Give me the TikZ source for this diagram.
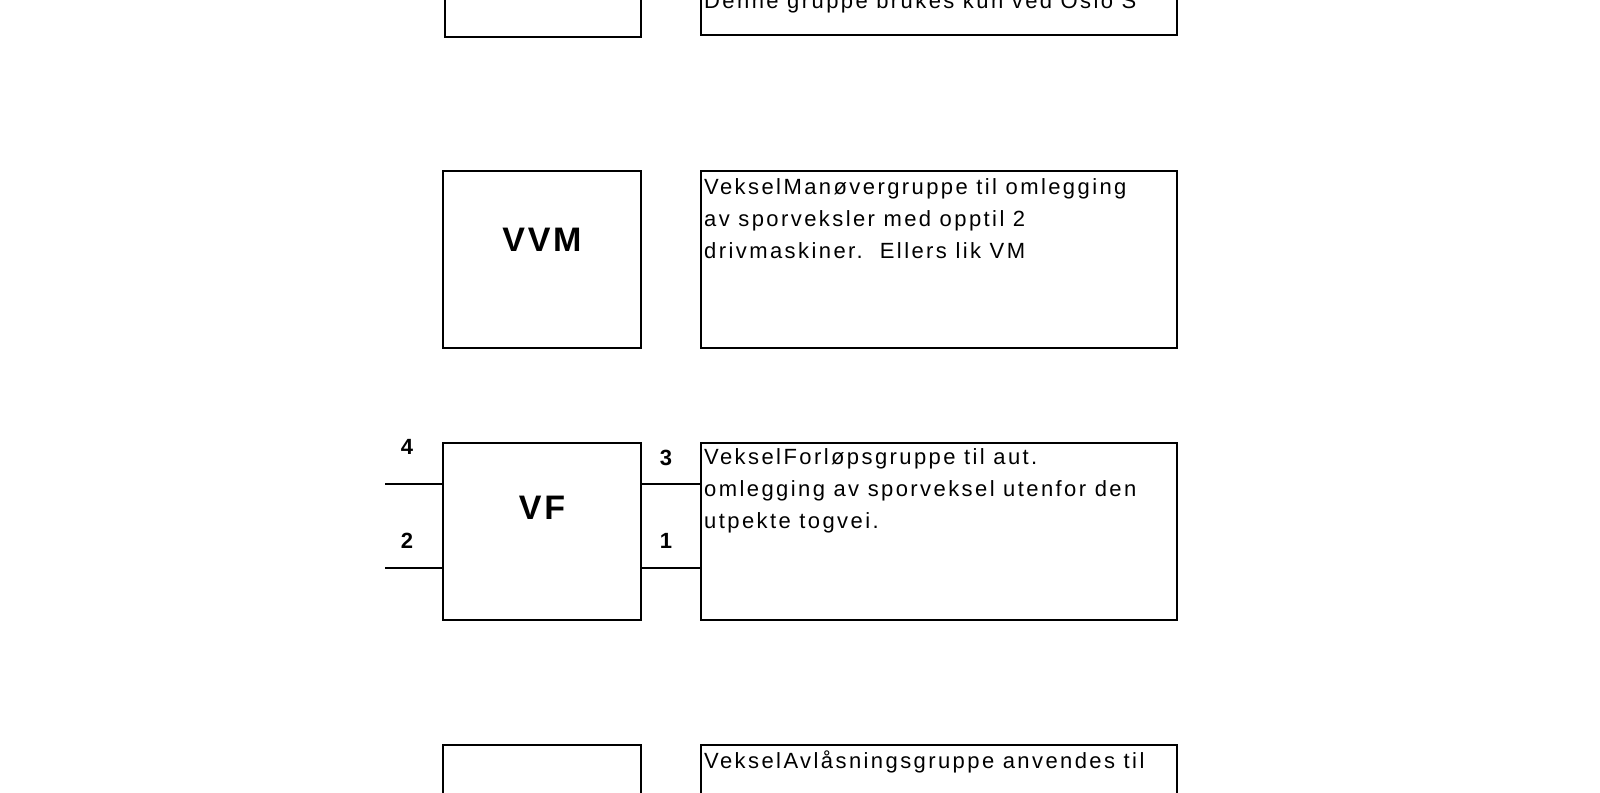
\documentclass[tikz,border=0pt]{standalone}
\usepackage{fontspec}
\setmainfont{Liberation Sans}
\newfontfamily\wide[LetterSpace=11]{Liberation Sans}
\newfontfamily\widebig[LetterSpace=8]{Liberation Sans}
\begin{document}
\begin{tikzpicture}[x=1pt,y=-1pt,
  box/.style={draw,line width=1.4pt},
  big/.style={font=\widebig\fontsize{34}{34}\selectfont\bfseries},
  num/.style={font=\fontsize{22}{22}\selectfont\bfseries},
  desc/.style={anchor=north west,align=left,inner sep=0pt,font=\wide\fontsize{22}{32}\selectfont}]
\useasboundingbox (0,0) rectangle (1600,792);
\clip (0,0) rectangle (1600,792);
% top partial
\draw[box] (445,-60) rectangle (641,37);
\draw[box] (701,-60) rectangle (1177,35);
\node[desc] (t0) at (704,-8) {Denne gruppe brukes kun ved Oslo S};
% VVM
\draw[box] (443,171) rectangle (641,348);
\node[big] (vvm) at (542,240) {VVM};
\draw[box] (701,171) rectangle (1177,348);
\node[desc] (t1) at (704,178) {VekselManøvergruppe til omlegging\\av sporveksler med opptil 2\\drivmaskiner.\ \ Ellers lik VM};
% VF
\draw[box] (443,443) rectangle (641,620);
\node[big] (vf) at (542,508) {VF};
\draw[box] (701,443) rectangle (1177,620);
\node[desc] (t2) at (704,448) {VekselForløpsgruppe til aut.\\omlegging av sporveksel utenfor den\\utpekte togvei.};
\coordinate (l4) at (385,484); \coordinate (l4e) at (443,484);
\coordinate (l2) at (385,568); \coordinate (l2e) at (443,568);
\coordinate (r3) at (641,484); \coordinate (r3e) at (701,484);
\coordinate (r1) at (641,568); \coordinate (r1e) at (701,568);
\draw[line width=1.4pt] (l4)--(l4e) (l2)--(l2e) (r3)--(r3e) (r1)--(r1e);
\node[num] (n4) at (407,447) {4};
\node[num] (n2) at (407,541) {2};
\node[num] (n3) at (666,458) {3};
\node[num] (n1) at (666,541) {1};
% bottom partial
\draw[box] (443,745) rectangle (641,900);
\draw[box] (701,745) rectangle (1177,900);
\node[desc] (t3) at (704,751) {VekselAvlåsningsgruppe anvendes til};
\end{tikzpicture}
\end{document}
